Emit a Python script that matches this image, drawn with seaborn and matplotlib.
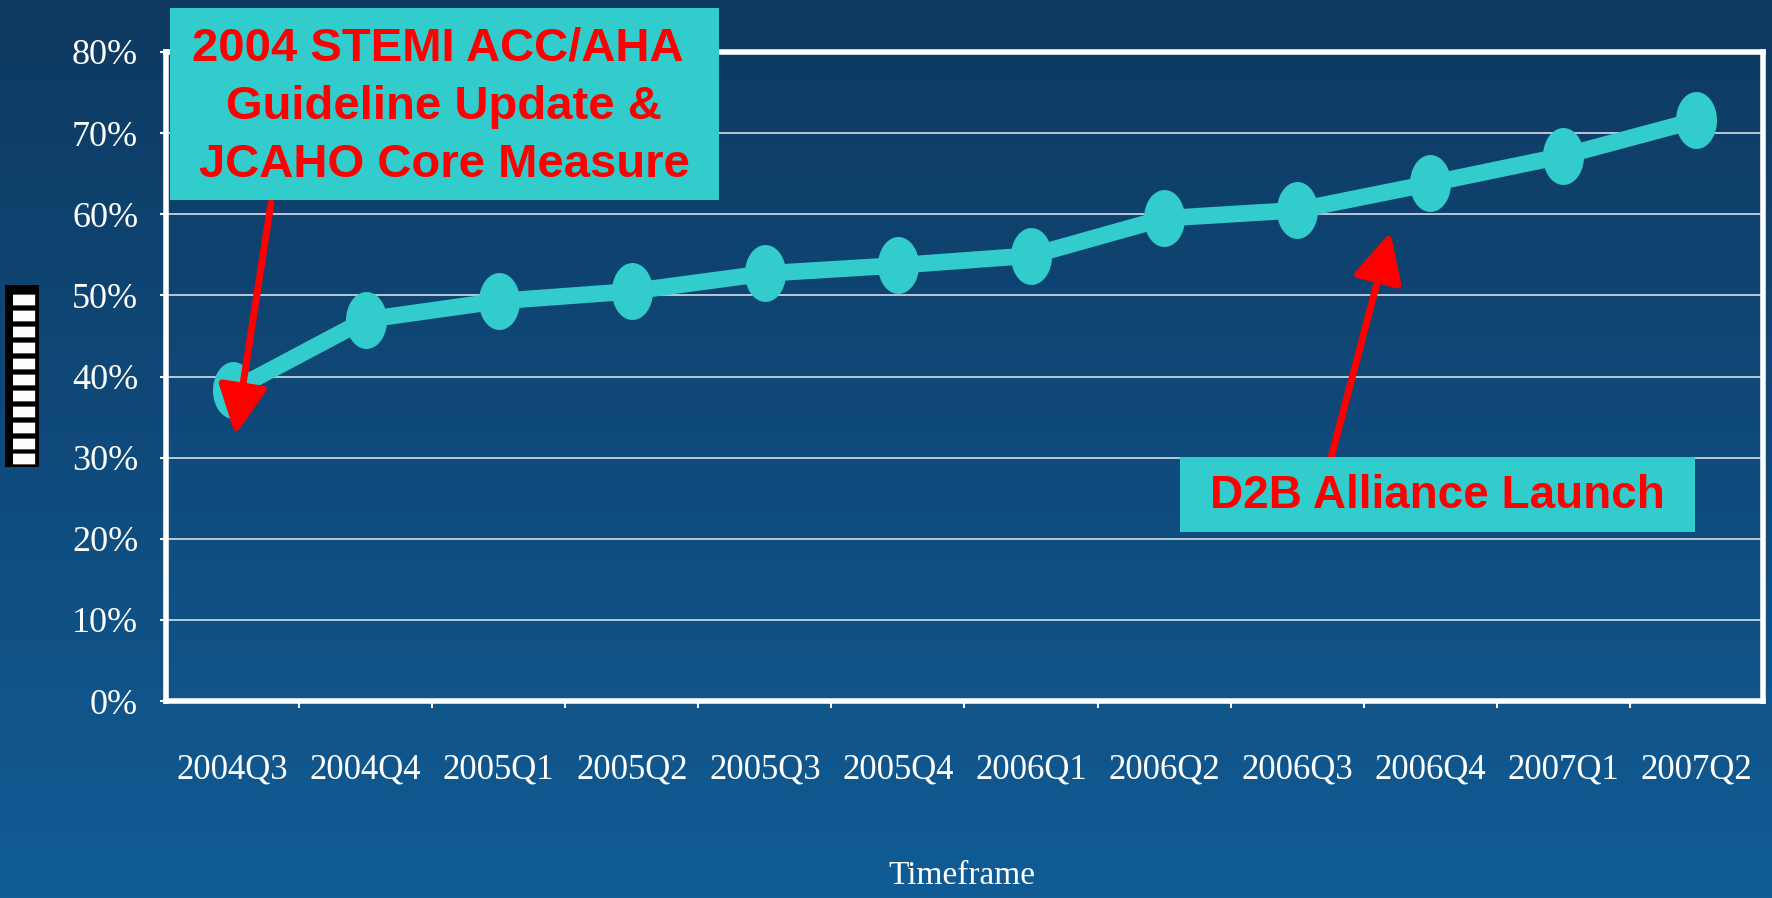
import numpy as np
import matplotlib
matplotlib.use("Agg")
import matplotlib.pyplot as plt
import pandas as pd
import seaborn as sns
from matplotlib.path import Path
from matplotlib.patches import Rectangle
from matplotlib.colors import LinearSegmentedColormap
from matplotlib.ticker import FixedLocator, PercentFormatter

# data
quarters = ['2004Q3', '2004Q4', '2005Q1', '2005Q2', '2005Q3', '2005Q4',
            '2006Q1', '2006Q2', '2006Q3', '2006Q4', '2007Q1', '2007Q2']
pct = [38.3, 47.0, 49.3, 50.5, 52.7, 53.7, 54.9, 59.5, 60.5, 63.8, 67.2, 71.6]
y_ticks = [0, 10, 20, 30, 40, 50, 60, 70, 80]

note_guideline = '2004 STEMI ACC/AHA \nGuideline Update &\nJCAHO Core Measure'
note_d2b = 'D2B Alliance Launch'

df = pd.DataFrame({'Timeframe': quarters, 'pct': pct})

W, H = 1772, 898
fig = plt.figure(figsize=(W / 100, H / 100), dpi=100)

# gradient backdrop
bg = fig.add_axes([0, 0, 1, 1], zorder=-1)
cmap = LinearSegmentedColormap.from_list('bg', ['#0e3961', '#115c95'])
bg.imshow(np.linspace(0, 1, 256).reshape(-1, 1), aspect='auto', cmap=cmap,
          extent=[0, 1, 0, 1])
bg.axis('off')

ax = fig.add_axes([166 / W, 1 - 701 / H, (1763 - 166) / W, (701 - 52) / H])
ax.set_facecolor('none')

# slightly tall oval markers like the original
t = np.linspace(0, 2 * np.pi, 80)
oval = Path(np.column_stack([0.72 * np.cos(t), np.sin(t)]), closed=True)

sns.lineplot(data=df, x='Timeframe', y='pct', ax=ax, sort=False,
             color='#33cccc', lw=12, marker=oval, markersize=41,
             markeredgewidth=0, zorder=3)

ax.set_xlim(-0.5, 11.5)
ax.set_ylim(0, 80)
ax.set_yticks(y_ticks)
ax.yaxis.set_major_formatter(PercentFormatter(decimals=0))
ax.set_xticks(range(len(quarters)))
ax.set_xticklabels(quarters)
ax.xaxis.set_minor_locator(FixedLocator(np.arange(0.5, 11, 1)))

ax.tick_params(axis='x', which='major', length=0, pad=38, labelsize=25,
               labelcolor='white')
ax.tick_params(axis='x', which='minor', length=5, width=1.5, color='white')
ax.tick_params(axis='y', length=4, width=1.5, color='white', labelcolor='white',
               labelsize=26, pad=16)
for lab in ax.get_xticklabels() + ax.get_yticklabels():
    lab.set_fontfamily('Liberation Serif')

ax.grid(axis='y', color='#d5dfe9', lw=1.2)
ax.set_axisbelow(True)
for s in ax.spines.values():
    s.set_color('white')
    s.set_linewidth(4)
ax.set_xlabel('')
ax.set_ylabel('')

fig.text(962 / W, 1 - 876 / H, 'Timeframe', ha='center', va='center',
         color='white', fontsize=24, family='Liberation Serif')

# the garbled axis title of the source slide
fig.text(22 / W, 1 - 376 / H, '\u25ae' * 11, rotation=90, ha='center', va='center',
         color='white', fontsize=21, family='DejaVu Sans',
         bbox=dict(facecolor='black', edgecolor='none', boxstyle='square,pad=0.1'))

# callout boxes
fig.add_artist(Rectangle((170 / W, 1 - 200 / H), (719 - 170) / W, (200 - 8) / H,
                         transform=fig.transFigure, facecolor='#33cccc',
                         edgecolor='none', zorder=5))
fig.text(444 / W, 1 - 107 / H, note_guideline, ha='center', va='center',
         color='#ff0000', fontsize=34, fontweight='bold', family='Liberation Sans',
         linespacing=1.42, zorder=6)

fig.add_artist(Rectangle((1180 / W, 1 - 532 / H), (1695 - 1180) / W, (532 - 457) / H,
                         transform=fig.transFigure, facecolor='#33cccc',
                         edgecolor='none', zorder=5))
fig.text(1437 / W, 1 - 496 / H, note_d2b, ha='center', va='center',
         color='#ff0000', fontsize=33, fontweight='bold', family='Liberation Sans',
         zorder=6)

arrow = dict(arrowstyle='-|>,head_length=1.5,head_width=0.75', color='#ff0000',
             lw=5, mutation_scale=20, shrinkA=0, shrinkB=0)
ax.annotate('', xy=(0.02, 32.8), xycoords='data', xytext=(271, H - 203),
            textcoords='figure pixels', arrowprops=arrow, annotation_clip=False,
            zorder=4)
ax.annotate('', xy=(8.7, 57.8), xycoords='data', xytext=(1331, H - 458),
            textcoords='figure pixels', arrowprops=arrow, annotation_clip=False,
            zorder=4)

fig.savefig('out.png', dpi=100)
